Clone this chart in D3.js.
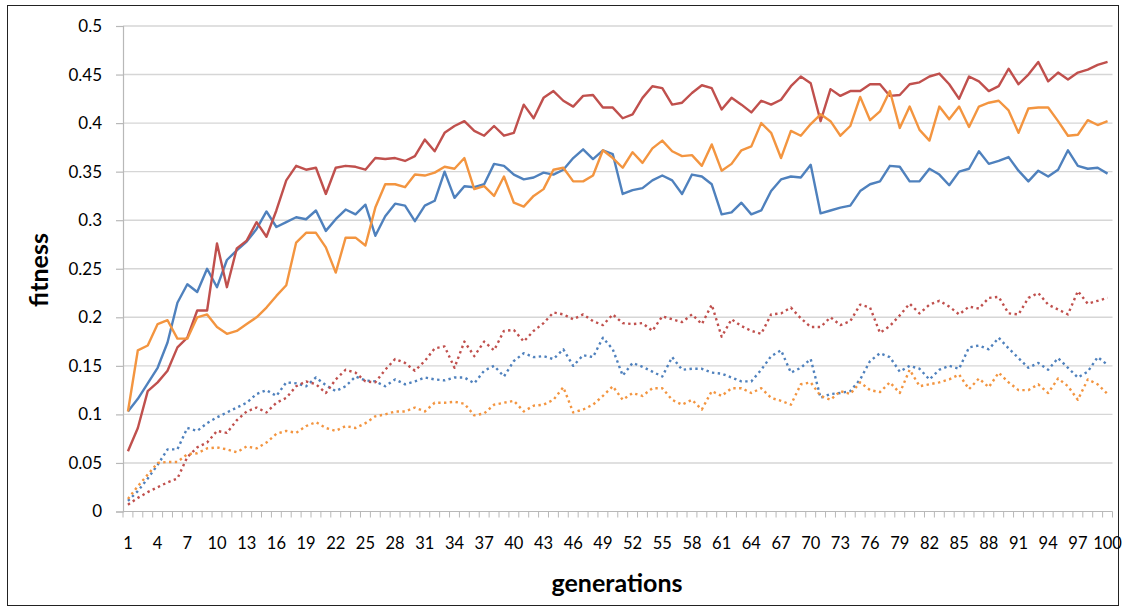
<!DOCTYPE html>
<html><head><meta charset="utf-8">
<script src="https://cdn.jsdelivr.net/npm/d3@7/dist/d3.min.js"></script>
<style>
html,body{margin:0;padding:0;background:#fff;}
svg{display:block;}
text{font-family:Lato,"Open Sans",sans-serif;fill:#000;}
</style></head>
<body><svg id="chart" width="1125" height="610"></svg>
<script>
const generations = d3.range(1, 101);
const xTickLabels = d3.range(1, 101, 3);
const yTicks = [0,0.05,0.1,0.15,0.2,0.25,0.3,0.35,0.4,0.45,0.5];

const blueSolid = [0.103,0.116,0.132,0.148,0.174,0.215,0.234,0.226,0.250,0.231,0.259,0.269,0.278,0.291,0.309,0.293,0.298,0.303,0.301,0.310,0.289,0.301,0.311,0.306,0.316,0.284,0.304,0.317,0.315,0.299,0.315,0.320,0.350,0.323,0.335,0.334,0.337,0.358,0.356,0.347,0.342,0.344,0.349,0.347,0.352,0.364,0.373,0.363,0.372,0.368,0.327,0.331,0.333,0.341,0.346,0.341,0.327,0.347,0.345,0.337,0.306,0.308,0.318,0.306,0.310,0.330,0.342,0.345,0.344,0.357,0.307,0.310,0.313,0.315,0.330,0.337,0.340,0.356,0.355,0.340,0.340,0.353,0.347,0.336,0.350,0.353,0.371,0.358,0.361,0.365,0.351,0.340,0.351,0.345,0.352,0.372,0.356,0.353,0.354,0.348];
const redSolid = [0.062,0.086,0.124,0.133,0.145,0.169,0.179,0.207,0.207,0.276,0.231,0.271,0.279,0.298,0.283,0.310,0.341,0.356,0.352,0.354,0.327,0.354,0.356,0.355,0.352,0.364,0.363,0.364,0.361,0.366,0.383,0.371,0.390,0.397,0.402,0.392,0.387,0.397,0.387,0.390,0.419,0.405,0.426,0.433,0.423,0.417,0.428,0.429,0.416,0.416,0.405,0.409,0.426,0.438,0.436,0.419,0.421,0.431,0.439,0.436,0.414,0.426,0.419,0.411,0.423,0.419,0.424,0.438,0.448,0.441,0.402,0.435,0.428,0.433,0.433,0.440,0.440,0.428,0.429,0.440,0.442,0.448,0.451,0.440,0.425,0.448,0.443,0.433,0.438,0.456,0.440,0.450,0.463,0.443,0.452,0.445,0.452,0.455,0.460,0.463];
const orangeSolid = [0.103,0.166,0.171,0.193,0.197,0.178,0.178,0.200,0.203,0.190,0.183,0.186,0.193,0.200,0.210,0.222,0.233,0.277,0.287,0.287,0.272,0.246,0.282,0.282,0.274,0.313,0.337,0.337,0.334,0.347,0.346,0.349,0.355,0.353,0.364,0.332,0.335,0.325,0.345,0.318,0.314,0.325,0.332,0.352,0.354,0.340,0.340,0.346,0.372,0.364,0.354,0.370,0.359,0.374,0.382,0.371,0.366,0.367,0.356,0.378,0.351,0.358,0.372,0.376,0.400,0.390,0.364,0.392,0.387,0.399,0.409,0.402,0.387,0.397,0.427,0.403,0.412,0.433,0.395,0.417,0.393,0.382,0.417,0.404,0.417,0.396,0.417,0.421,0.423,0.413,0.390,0.415,0.416,0.416,0.402,0.387,0.388,0.403,0.398,0.402];
const blueDotted = [0.011,0.021,0.034,0.048,0.064,0.064,0.086,0.083,0.091,0.097,0.102,0.107,0.112,0.121,0.125,0.119,0.133,0.132,0.129,0.138,0.130,0.124,0.129,0.139,0.135,0.134,0.129,0.136,0.131,0.134,0.138,0.136,0.135,0.138,0.138,0.132,0.145,0.150,0.139,0.155,0.163,0.159,0.160,0.157,0.167,0.150,0.161,0.159,0.179,0.167,0.140,0.153,0.149,0.144,0.139,0.159,0.146,0.147,0.147,0.143,0.142,0.138,0.134,0.134,0.146,0.160,0.166,0.143,0.148,0.157,0.117,0.121,0.122,0.124,0.136,0.155,0.163,0.159,0.144,0.150,0.147,0.136,0.146,0.150,0.147,0.169,0.171,0.167,0.179,0.168,0.158,0.148,0.153,0.146,0.158,0.148,0.138,0.144,0.159,0.151];
const redDotted = [0.007,0.014,0.020,0.025,0.030,0.034,0.056,0.066,0.071,0.083,0.081,0.094,0.103,0.107,0.102,0.112,0.117,0.129,0.134,0.131,0.122,0.136,0.146,0.143,0.134,0.133,0.146,0.157,0.153,0.145,0.155,0.168,0.170,0.148,0.175,0.160,0.175,0.166,0.186,0.187,0.175,0.186,0.194,0.205,0.203,0.198,0.203,0.196,0.192,0.203,0.194,0.193,0.194,0.186,0.201,0.198,0.195,0.203,0.193,0.213,0.180,0.198,0.191,0.186,0.183,0.203,0.204,0.210,0.199,0.190,0.190,0.200,0.192,0.196,0.213,0.210,0.184,0.191,0.202,0.214,0.204,0.213,0.217,0.211,0.203,0.211,0.209,0.220,0.221,0.204,0.203,0.220,0.225,0.213,0.208,0.203,0.227,0.214,0.217,0.220];
const orangeDotted = [0.013,0.026,0.038,0.050,0.051,0.051,0.059,0.060,0.065,0.066,0.064,0.061,0.067,0.065,0.071,0.080,0.083,0.081,0.088,0.092,0.086,0.083,0.088,0.086,0.091,0.098,0.100,0.103,0.103,0.107,0.103,0.112,0.112,0.113,0.111,0.099,0.101,0.110,0.112,0.114,0.103,0.109,0.110,0.115,0.128,0.102,0.105,0.110,0.119,0.129,0.115,0.122,0.119,0.127,0.127,0.115,0.110,0.115,0.105,0.124,0.119,0.127,0.127,0.122,0.127,0.117,0.114,0.110,0.131,0.133,0.119,0.115,0.124,0.121,0.133,0.125,0.123,0.133,0.122,0.146,0.129,0.131,0.133,0.136,0.141,0.126,0.137,0.128,0.143,0.133,0.125,0.125,0.131,0.122,0.137,0.129,0.115,0.136,0.131,0.121];

const seriesList = [
  {values: blueDotted, color: "#4f81bd", dotted: true},
  {values: redDotted, color: "#c0504d", dotted: true},
  {values: orangeDotted, color: "#f39540", dotted: true},
  {values: blueSolid, color: "#4f81bd", dotted: false},
  {values: redSolid, color: "#c0504d", dotted: false},
  {values: orangeSolid, color: "#f39540", dotted: false}
];

const svg = d3.select("#chart");
const plotLeft = 123, plotRight = 1112.5, plotTop = 26, plotBottom = 511.5;

svg.append("rect").attr("x", 7.5).attr("y", 5.5).attr("width", 1111).attr("height", 600)
  .attr("fill", "none").attr("stroke", "#222").attr("stroke-width", 1);

const x = d3.scaleBand().domain(generations).range([plotLeft, plotRight]);
const cx = g => x(g) + x.bandwidth() / 2;
const y = d3.scaleLinear().domain([0, 0.5]).range([plotBottom, plotTop]);

// gridlines
svg.append("g").selectAll("line").data(yTicks.slice(1)).join("line")
  .attr("x1", plotLeft).attr("x2", plotRight)
  .attr("y1", d => y(d)).attr("y2", d => y(d))
  .attr("stroke", "#d6d6d6").attr("stroke-width", 1.4);

// y axis
const yAxis = svg.append("g").attr("transform", `translate(${plotLeft},0)`)
  .call(d3.axisLeft(y).tickValues(yTicks).tickSize(7).tickPadding(14)
    .tickFormat(d => String(+d.toFixed(2))));
yAxis.select(".domain").attr("stroke", "#b8b8b8").attr("stroke-width", 1.2);
yAxis.selectAll(".tick line").attr("stroke", "#b8b8b8").attr("stroke-width", 1.2);
yAxis.selectAll("text").attr("font-size", 17).attr("font-family", "Lato, 'Open Sans', sans-serif").attr("fill", "#000");

// x axis
svg.append("line").attr("x1", plotLeft).attr("x2", plotRight).attr("y1", plotBottom).attr("y2", plotBottom)
  .attr("stroke", "#b8b8b8").attr("stroke-width", 1.2);
svg.append("g").selectAll("line").data(generations.concat([101])).join("line")
  .attr("x1", d => d <= 100 ? x(d) : plotRight).attr("x2", d => d <= 100 ? x(d) : plotRight)
  .attr("y1", plotBottom).attr("y2", plotBottom + 6)
  .attr("stroke", "#b8b8b8").attr("stroke-width", 1);
const xAxis = svg.append("g").attr("transform", `translate(0,${plotBottom})`)
  .call(d3.axisBottom(x).tickValues(xTickLabels).tickSize(0).tickPadding(26));
xAxis.select(".domain").remove();
xAxis.selectAll("text").attr("font-size", 16.5).attr("font-family", "Lato, 'Open Sans', sans-serif").attr("fill", "#000");

// lines
const line = d3.line().x((d, i) => cx(generations[i])).y(d => y(d));
svg.append("g").selectAll("path").data(seriesList).join("path")
  .attr("d", d => line(d.values))
  .attr("fill", "none")
  .attr("stroke", d => d.color)
  .attr("stroke-width", 2.4)
  .attr("stroke-linejoin", "round")
  .attr("stroke-dasharray", d => d.dotted ? "2.4 3.4" : null);

// axis titles
svg.append("text").attr("x", 617).attr("y", 592).attr("text-anchor", "middle")
  .attr("font-size", 25).attr("font-weight", "bold").text("generations");
svg.append("text").attr("transform", "translate(48,270) rotate(-90)").attr("text-anchor", "middle")
  .attr("font-size", 25).attr("font-weight", "bold").text("fitness");
</script></body></html>
